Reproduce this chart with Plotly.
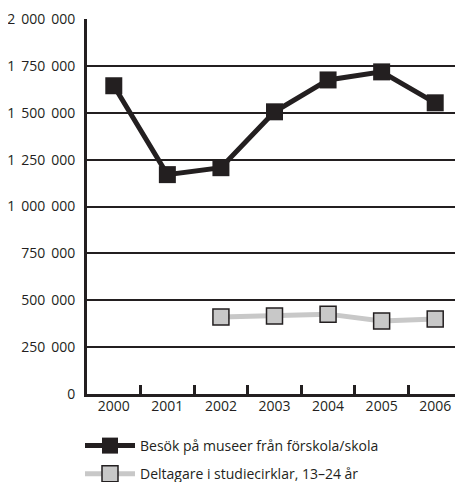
import plotly.graph_objects as go

years = ["2000", "2001", "2002", "2003", "2004", "2005", "2006"]
museum_visits = [1644000, 1170000, 1207000, 1505000, 1675000, 1718000, 1553000]
study_circles = [None, None, 411000, 416000, 426000, 389000, 400000]
y_ticks = [0, 250000, 500000, 750000, 1000000, 1250000, 1500000, 1750000, 2000000]
y_tick_labels = ["0", "250 000", "500 000", "750 000", "1 000 000", "1 250 000",
                 "1 500 000", "1 750 000", "2 000 000"]
names = ["Besök på museer från förskola/skola", "Deltagare i studiecirklar, 13–24 år"]

INK = "#231f20"
GRAY = "#c8c8c8"
FONT = dict(family="Open Sans", size=14, color=INK)

# slightly wider thousands separator, as in the reference
y_tick_text = [t.replace(" ", "\u00a0\u2009") for t in y_tick_labels]

# the page body adds an 8px offset; internal coordinates are shifted to compensate
fig = go.Figure()
fig.add_trace(go.Scatter(
    x=years, y=museum_visits, name=names[0], mode="lines+markers",
    line=dict(color=INK, width=5),
    marker=dict(symbol="square", size=17, color=INK, line=dict(width=0)),
    legendgroup="a",
))
fig.add_trace(go.Scatter(
    x=years, y=study_circles, name=names[1], mode="lines+markers",
    line=dict(color=GRAY, width=5),
    marker=dict(symbol="square", size=16, color=GRAY, line=dict(width=1.5, color=INK)),
    legendgroup="b",
))

fig.update_layout(
    width=463, height=482,
    margin=dict(l=79, r=9, t=11, b=96, autoexpand=False),
    paper_bgcolor="white", plot_bgcolor="white",
    font=FONT,
    showlegend=True,
    legend=dict(
        xref="container", yref="container",
        x=72 / 463, y=1 - 422 / 482, xanchor="left", yanchor="top",
        itemwidth=50, tracegroupgap=7, font=FONT,
        bgcolor="rgba(0,0,0,0)", borderwidth=0,
    ),
    xaxis=dict(
        type="category", categoryorder="array", categoryarray=years,
        tickson="boundaries", ticks="inside", ticklen=9, tickwidth=2.5, tickcolor=INK,
        showline=True, linewidth=2.5, linecolor=INK,
        showgrid=False, zeroline=False, tickfont=FONT, tickangle=0,
        ticklabelstandoff=-3,
        range=[-0.5, 6.5],
    ),
    yaxis=dict(
        range=[0, 2000000], tickmode="array", tickvals=y_ticks, ticktext=y_tick_text,
        showgrid=True, gridcolor=INK, gridwidth=2,
        showline=True, linewidth=3, linecolor=INK,
        zeroline=False, ticks="", ticklabelstandoff=6, tickfont=FONT,
    ),
)

fig.write_html("out.html")
